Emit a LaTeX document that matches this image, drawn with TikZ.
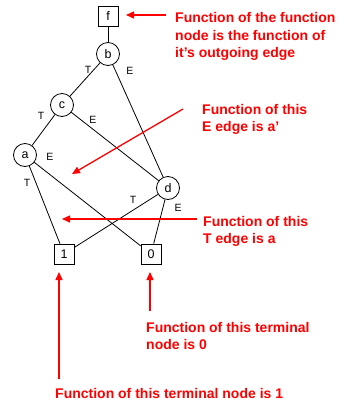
\documentclass[tikz,border=0pt]{standalone}
\usepackage{fontspec}
\setmainfont{Liberation Sans}
\usetikzlibrary{arrows.meta}
\begin{document}
\begin{tikzpicture}[x=1pt,y=-1pt,
  vnode/.style={draw,circle,minimum size=23pt,inner sep=0pt,line width=0.8pt,font=\fontsize{12.5}{14}\selectfont},
  tnode/.style={draw,rectangle,minimum size=20pt,inner sep=0pt,line width=0.8pt,font=\fontsize{12.5}{14}\selectfont},
  edgeline/.style={line width=0.8pt},
  elabel/.style={font=\fontsize{10.5}{12}\selectfont,inner sep=0pt},
  note/.style={text=red,font=\bfseries\fontsize{14}{17.5}\selectfont,align=left,anchor=north west,inner sep=0pt},
  callout/.style={red,line width=1.3pt,-{Triangle[length=8pt,width=7pt]}}]
\useasboundingbox (0,0) rectangle (344,402);
% nodes
\node[tnode] (f) at (108,16) {f};
\node[vnode] (b) at (108,54) {b};
\node[vnode] (c) at (62,105) {c};
\node[vnode] (a) at (25,155) {a};
\node[vnode] (d) at (168,188) {d};
\node[tnode] (one) at (64,254) {1};
\node[tnode] (zero) at (151,254) {0};
% edges
\draw[edgeline] (f) -- (b);
\draw[edgeline] (b) -- (c);
\draw[edgeline] (b) -- (d);
\draw[edgeline] (c) -- (a);
\draw[edgeline] (c) -- (d);
\draw[edgeline] (a) -- (one);
\draw[edgeline] (a) -- (zero);
\draw[edgeline] (d) -- (one);
\draw[edgeline] (d) -- (zero);
% edge labels
\node[elabel] (lbc) at (88,70) {T};
\node[elabel] (lbd) at (130,71) {E};
\node[elabel] (lca) at (41,116) {T};
\node[elabel] (lcd) at (93,120) {E};
\node[elabel] (lae) at (50,157) {E};
\node[elabel] (lat) at (27,183) {T};
\node[elabel] (ldt) at (133,200) {T};
\node[elabel] (lde) at (178,208) {E};
% notes
\node[note] (n1) at (175,12.5) {Function of the function\\node is the function of\\it’s outgoing edge};
\node[note] (n2) at (202,104) {Function of this\\E edge is a’};
\node[note] (n3) at (203,216) {Function of this\\T edge is a};
\node[note] (n4) at (146,322) {Function of this terminal\\node is 0};
\node[note] (n5) at (55,388) {Function of this terminal node is 1};
% callouts
\coordinate (s1) at (166,15);
\coordinate (e1) at (126,15);
\coordinate (s2) at (183,109);
\coordinate (e2) at (72,174);
\coordinate (s3) at (197,219);
\coordinate (e3) at (62,219);
\coordinate (s4) at (59,379);
\coordinate (e4) at (59,272);
\coordinate (s5) at (150,311);
\coordinate (e5) at (150,272);
\draw[callout] (s1) -- (e1);
\draw[callout] (s2) -- (e2);
\draw[callout] (s3) -- (e3);
\draw[callout] (s4) -- (e4);
\draw[callout] (s5) -- (e5);
\end{tikzpicture}
\end{document}
